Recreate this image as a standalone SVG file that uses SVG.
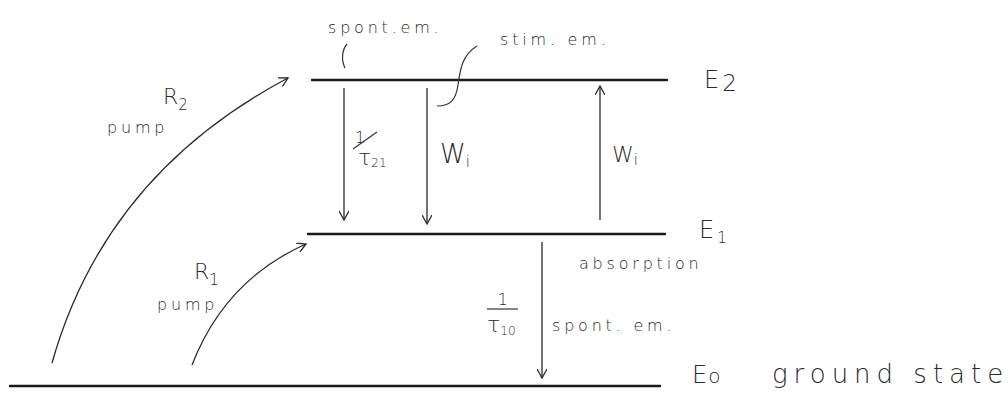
<svg xmlns="http://www.w3.org/2000/svg" width="1008" height="400" viewBox="0 0 1008 400">
<style>
.lvl{stroke:#1a1a1a;stroke-width:2.4;fill:none;stroke-linecap:round}
.arr{stroke:#2a2a2a;stroke-width:1.3;fill:none;marker-end:url(#ah)}
.thin{stroke:#333;stroke-width:1.2;fill:none}
text{font-family:"DejaVu Sans","Liberation Sans",sans-serif;fill:#2a2a2a;font-weight:300}
.sm{font-size:16px;letter-spacing:3.8px}
.md{font-size:22px}
.lg{font-size:24px}
.sub{font-size:15px}
.gs{font-size:26px;letter-spacing:6px}
</style>
<defs>
<marker id="ah" viewBox="0 0 10 10" refX="9" refY="5" markerWidth="10" markerHeight="10" markerUnits="userSpaceOnUse" orient="auto">
<path d="M0,0 L9,5 L0,10" fill="none" stroke="#2a2a2a" stroke-width="1.3"/>
</marker>
</defs>
<rect width="1008" height="400" fill="#fff"/>

<g id="E2">
<line class="lvl" x1="312" y1="80" x2="667" y2="80"/>
<text class="lg" x="704" y="88">E<tspan font-size="23" dx="3" dy="3">2</tspan></text>
</g>
<g id="E1">
<line class="lvl" x1="308" y1="234" x2="665" y2="234"/>
<text class="lg" x="699" y="238">E<tspan class="sub" dx="3" dy="5">1</tspan></text>
</g>
<g id="E0">
<line class="lvl" x1="10" y1="386" x2="660" y2="386"/>
<text class="lg" x="692" y="383">E<tspan font-size="20" dx="1">o</tspan></text>
<text class="gs" x="772" y="383">ground state</text>
</g>

<g id="connectors">
<path class="arr" d="M52,363 Q105,175 288,78"/>
<path class="arr" d="M192,365 Q225,280 306,244"/>
<line class="arr" x1="344" y1="88" x2="344" y2="220"/>
<line class="arr" x1="427" y1="88" x2="427" y2="224"/>
<line class="arr" x1="600" y1="220" x2="600" y2="86"/>
<line class="arr" x1="542" y1="242" x2="542" y2="378"/>
<path class="thin" d="M347,44 C342,50 341,60 345,68"/>
<path class="thin" d="M477,46 C462,55 460,70 458,85 C456,100 450,106 437,106"/>
</g>

<g id="labels">
<text class="sm" x="328" y="33" letter-spacing="4.3">spont.em.</text>
<text class="sm" x="500" y="45">stim. em.</text>
<text class="md" x="163" y="104">R<tspan class="sub" dy="6">2</tspan></text>
<text class="sm" x="107" y="133" letter-spacing="5">pump</text>
<text class="md" x="194" y="279">R<tspan class="sub" dy="6">1</tspan></text>
<text class="sm" x="157" y="310" letter-spacing="5">pump</text>
<text x="355" y="143" font-size="16">1</text>
<line class="thin" x1="353" y1="149" x2="377" y2="132"/>
<text class="md" x="358" y="165">τ<tspan font-size="12" dy="2">21</tspan></text>
<text x="440" y="163" font-size="26">W<tspan class="sub" dy="4">i</tspan></text>
<text class="md" x="612" y="162">W<tspan class="sub" dy="3">i</tspan></text>
<text class="sm" x="579" y="269">absorption</text>
<text x="498" y="305" font-size="15">1</text>
<line class="thin" x1="487" y1="309" x2="518" y2="309"/>
<text class="md" x="487" y="332">τ<tspan font-size="12" dy="3">10</tspan></text>
<text class="sm" x="552" y="331" letter-spacing="3.3">spont. em.</text>
</g>
</svg>
